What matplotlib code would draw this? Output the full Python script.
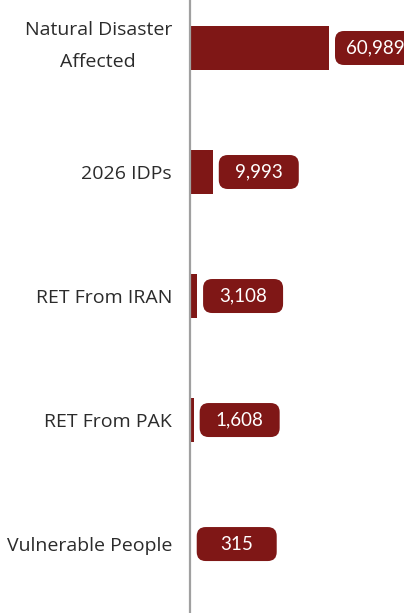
import matplotlib.pyplot as plt
from matplotlib.patches import FancyBboxPatch
from matplotlib.transforms import IdentityTransform, ScaledTranslation

categories = ['Natural Disaster\nAffected', '2026 IDPs', 'RET From IRAN',
              'RET From PAK', 'Vulnerable People']
values = [60989, 9993, 3108, 1608, 315]
labels = ['60,989', '9,993', '3,108', '1,608', '315']

bar_color = '#7f1716'

fig = plt.figure(figsize=(4.04, 6.13), dpi=100)
ax = fig.add_axes([190 / 404, 0, 214 / 404, 1])

ypos = list(range(len(values)))
ax.barh(ypos, values, height=0.35, color=bar_color, zorder=2)
ax.set_xlim(0, 93893)
ax.set_ylim(4.556, -0.387)

ax.set_yticks(ypos)
ax.set_yticklabels(categories, fontsize=14, color='#2b2b2b',
                   family='Open Sans', linespacing=2.0,
                   multialignment='center')
ax.tick_params(axis='y', length=0, pad=13)
# nudge the two-line label up a bit
first = ax.get_yticklabels()[0]
first.set_transform(first.get_transform() +
                    ScaledTranslation(0, 0.11, fig.dpi_scale_trans))
ax.set_xticks([])
for s in ['top', 'right', 'bottom']:
    ax.spines[s].set_visible(False)
ax.spines['left'].set_color('#a0a0a0')
ax.spines['left'].set_linewidth(1.6)

# value labels in rounded boxes, fixed pixel size
box_w, box_h, gap = 80, 34, 6
for i, (v, lab) in enumerate(zip(values, labels)):
    x0, yc = ax.transData.transform((v, i))
    left = x0 + gap
    patch = FancyBboxPatch((left, yc - box_h / 2), box_w, box_h,
                           boxstyle='round,pad=0,rounding_size=9',
                           transform=IdentityTransform(), facecolor=bar_color,
                           edgecolor='none', clip_on=False, zorder=3)
    ax.add_artist(patch)
    ax.text(left + box_w / 2, yc, lab, transform=IdentityTransform(),
            ha='center', va='center', color='white', fontsize=13.5,
            family='Lato', zorder=4)

fig.savefig('out.png', dpi=100)
